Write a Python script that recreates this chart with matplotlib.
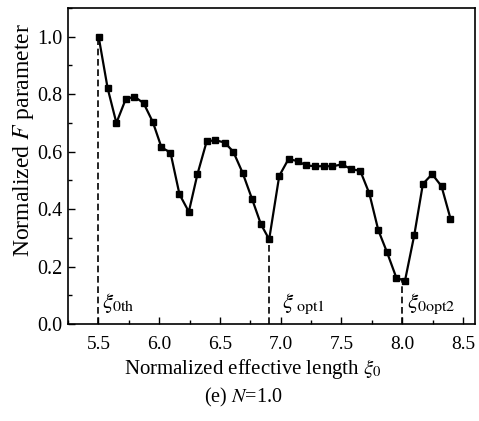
import matplotlib
matplotlib.use("Agg")
import matplotlib.pyplot as plt
from matplotlib.ticker import MultipleLocator

plt.rcParams['font.family'] = ['Liberation Serif', 'DejaVu Serif']
plt.rcParams['mathtext.fontset'] = 'stix'

# normalized effective length xi_0 vs normalized F parameter
xi = [5.502, 5.576, 5.648, 5.724, 5.795, 5.872, 5.948, 6.019, 6.093, 6.167,
      6.244, 6.315, 6.391, 6.462, 6.539, 6.610, 6.687, 6.763, 6.837, 6.905,
      6.988, 7.065, 7.139, 7.207, 7.283, 7.360, 7.426, 7.502, 7.578, 7.655,
      7.729, 7.803, 7.874, 7.951, 8.022, 8.099, 8.170, 8.246, 8.323, 8.397]
F = [1.000, 0.821, 0.700, 0.782, 0.792, 0.769, 0.703, 0.615, 0.597, 0.452,
     0.391, 0.522, 0.636, 0.640, 0.632, 0.600, 0.526, 0.437, 0.348, 0.295,
     0.516, 0.575, 0.567, 0.553, 0.549, 0.550, 0.549, 0.556, 0.540, 0.533,
     0.455, 0.327, 0.251, 0.162, 0.150, 0.310, 0.488, 0.522, 0.480, 0.367]

# marked lengths and the level the dashed line reaches
marks_x = [5.5, 6.9, 8.0]
marks_y = [1.0, 0.295, 0.162]
marks_lbl = [r'$\xi_{\rm 0th}$', r'$\xi_{\ \rm opt1}$', r'$\xi_{\rm 0opt2}$']
marks_dx = [0.03, 0.11, 0.04]

fig = plt.figure(figsize=(4.79, 4.21), dpi=100)
ax = fig.add_axes([0.142, 0.230, 0.850, 0.751])

ax.plot(xi, F, color='black', lw=1.6, marker='s', ms=5)

for x, y, lbl, dx in zip(marks_x, marks_y, marks_lbl, marks_dx):
    ax.plot([x, x], [0, y], color='black', lw=1.2, ls=(0, (4, 2.2)))
    ax.text(x + dx, 0.072, lbl, fontsize=16.5, va='center', ha='left')

ax.set_xlim(5.25, 8.6)
ax.set_ylim(0, 1.1)
ax.xaxis.set_major_locator(MultipleLocator(0.5))
ax.xaxis.set_minor_locator(MultipleLocator(0.25))
ax.yaxis.set_major_locator(MultipleLocator(0.2))
ax.yaxis.set_minor_locator(MultipleLocator(0.1))
ax.tick_params(which='both', direction='in', top=False, right=False, width=1.0)
ax.tick_params(which='major', length=5)
ax.tick_params(which='minor', length=3)
ax.tick_params(axis='x', labelsize=14, pad=8.5)
ax.tick_params(axis='y', labelsize=14.5, pad=4)
for s in ax.spines.values():
    s.set_linewidth(1.2)

ax.set_xlabel(r'Normalized effective length $\xi_0$', fontsize=15)
ax.xaxis.set_label_coords(0.455, -0.105)
ax.set_ylabel(r'Normalized $F$ parameter', fontsize=17)
ax.yaxis.set_label_coords(-0.078, 0.583)
fig.text(0.508, 0.055, r'(e) $N$=1.0', fontsize=14.5, ha='center', va='center')

fig.savefig('out.png', dpi=100)
